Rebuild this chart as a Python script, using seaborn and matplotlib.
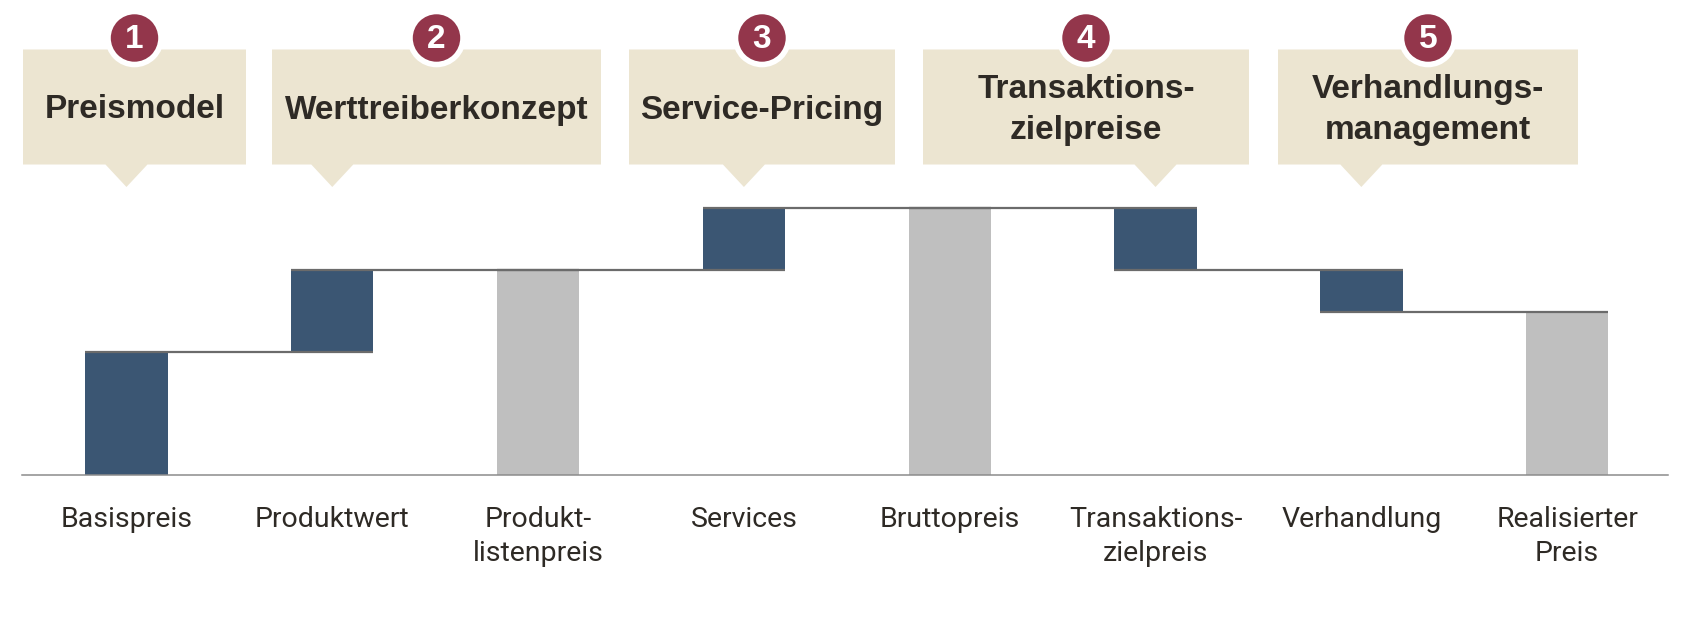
import numpy as np
import pandas as pd
import seaborn as sns
import matplotlib.pyplot as plt
from matplotlib.patches import Polygon, Circle

# -------------------------------
# Data
# -------------------------------
labels = ["Basispreis", "Produktwert", "Produkt-\nlistenpreis", "Services",
          "Bruttopreis", "Transaktions-\nzielpreis", "Verhandlung", "Realisierter\nPreis"]
kind = ["delta", "delta", "total", "delta", "total", "delta", "delta", "total"]
deltas = [46, 30.5, None, 23.5, None, -23.5, -15.5, None]

steps = ["Preismodel", "Werttreiberkonzept", "Service-Pricing",
         "Transaktions-\nzielpreise", "Verhandlungs-\nmanagement"]
step_nums = ["1", "2", "3", "4", "5"]
step_bar = [0, 1, 3, 5, 6]  # bar each callout points at

BLUE = "#3b5673"
GREY = "#bfbfbf"
BEIGE = "#ece5d1"
RED = "#93364b"
TXT = "#2e2a25"

# waterfall geometry
cum, lo, hi = [], [], []
level = 0.0
for d in deltas:
    if d is None:
        lo.append(0.0); hi.append(level)
    else:
        lo.append(min(level, level + d)); hi.append(max(level, level + d))
        level += d
    cum.append(level)

df = pd.DataFrame({"label": labels, "kind": kind, "top": hi, "bottom": lo})

# -------------------------------
# Figure
# -------------------------------
sns.set_theme(style="white")
plt.rcParams["font.family"] = ["Liberation Sans", "DejaVu Sans"]

W, H = 1687, 628
fig = plt.figure(figsize=(W / 100, H / 100), dpi=100)

px_unit = 2.669
base_y = 153.5
ymax = 103
x_left, x_right = 21.5, 1668
xlo, xhi = -0.51, 7.49
ax = fig.add_axes([x_left / W, base_y / H, (x_right - x_left) / W, ymax * px_unit / H])

sns.barplot(data=df, x="label", y="top", hue="kind", palette={"delta": BLUE, "total": GREY},
            dodge=False, width=0.4, saturation=1, legend=False, linewidth=0, ax=ax)
sns.barplot(data=df, x="label", y="bottom", color="white", width=0.405, saturation=1,
            linewidth=0, ax=ax)

# connectors
for i in range(len(labels) - 1):
    ax.hlines(cum[i], i - 0.2, i + 1.2, color="#6b6b6b", lw=1.6, zorder=3)

ax.set_xlim(xlo, xhi)
ax.set_ylim(0, ymax)
ax.set_xlabel("")
ax.set_ylabel("")
ax.set_yticks([])
for s in ["top", "right", "left"]:
    ax.spines[s].set_visible(False)
ax.spines["bottom"].set_color("#8c8c8c")
ax.spines["bottom"].set_linewidth(1.1)
ax.tick_params(axis="x", length=0, pad=23)
for t in ax.get_xticklabels():
    t.set_fontfamily(["Roboto", "DejaVu Sans"])
    t.set_fontweight("normal")
    t.set_fontsize(20.5)
    t.set_color(TXT)
    t.set_linespacing(1.3)
    t.set_verticalalignment("top")

# -------------------------------
# Callouts
# -------------------------------
ov = fig.add_axes([0, 0, 1, 1], zorder=-1)
ov.set_xlim(0, W)
ov.set_ylim(H, 0)
ov.axis("off")

boxes = [(23, 246), (272, 601), (629, 895), (923, 1249), (1278, 1578)]
box_top, box_bot, tip_y, half = 49.5, 164.5, 187, 21
for (x0, x1), txt, num, b in zip(boxes, steps, step_nums, step_bar):
    px = ax.transData.transform((b, 0))[0]
    poly = Polygon([(x0, box_top), (x1, box_top), (x1, box_bot), (px + half, box_bot),
                    (px, tip_y), (px - half, box_bot), (x0, box_bot)],
                   closed=True, fc=BEIGE, ec="none")
    ov.add_patch(poly)
    cx = (x0 + x1) / 2
    ov.add_patch(Circle((cx, 38), 26.5, fc=RED, ec="white", lw=4, zorder=3))
    ov.text(cx, 39.5, num, ha="center", va="center", color="white",
            fontsize=24, fontweight="bold", zorder=4)
    ov.text(cx, 110, txt, ha="center", va="center", color=TXT, fontsize=24,
            fontweight="bold", linespacing=1.4)

fig.savefig("out.png", dpi=100)
